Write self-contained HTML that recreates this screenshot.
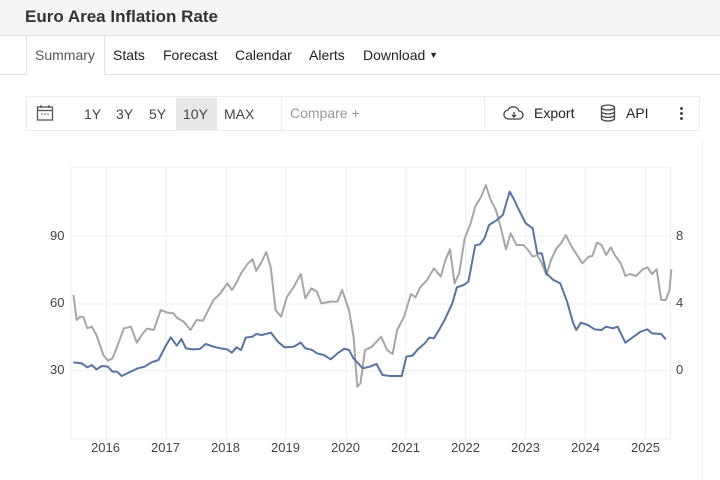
<!DOCTYPE html>
<html><head><meta charset="utf-8"><style>
body{margin:0;width:720px;height:480px;overflow:hidden;background:#fff;font-family:"Liberation Sans",sans-serif;position:relative}
.a{position:absolute;white-space:nowrap}
</style></head><body>
<div class="a" style="left:0;top:0;width:720px;height:35px;background:#f5f5f5;border-bottom:1px solid #e2e2e2"></div>
<div class="a" style="left:25px;top:7px;font-size:17px;font-weight:bold;color:#333">Euro Area Inflation Rate</div>
<div class="a" style="left:0;top:74px;width:720px;height:1px;background:#e2e2e2"></div>
<div class="a" style="left:26px;top:36px;width:77px;height:39px;background:#fff;border-left:1px solid #e2e2e2;border-right:1px solid #e2e2e2"></div>
<div class="a" style="left:35px;top:47px;font-size:14px;color:#555">Summary</div>
<div class="a" style="left:113px;top:47px;font-size:14px;color:#222">Stats</div>
<div class="a" style="left:163px;top:47px;font-size:14px;color:#222">Forecast</div>
<div class="a" style="left:235px;top:47px;font-size:14px;color:#222">Calendar</div>
<div class="a" style="left:309px;top:47px;font-size:14px;color:#222">Alerts</div>
<div class="a" style="left:363px;top:47px;font-size:14px;color:#222">Download <span style="font-size:9px;position:relative;top:-2px">&#9660;</span></div>
<div class="a" style="left:26px;top:96px;width:674px;height:35px;border:1px solid #ececec;box-sizing:border-box"></div>
<svg class="a" style="left:36px;top:104px" width="18" height="18" viewBox="0 0 18 18"><rect x="1.5" y="3" width="15" height="13" fill="none" stroke="#555" stroke-width="1.3"/><line x1="1.5" y1="6.5" x2="16.5" y2="6.5" stroke="#555" stroke-width="1.3"/><line x1="5" y1="1" x2="5" y2="4" stroke="#555" stroke-width="1.3"/><line x1="13" y1="1" x2="13" y2="4" stroke="#555" stroke-width="1.3"/><circle cx="6" cy="10" r=".8" fill="#555"/><circle cx="9" cy="10" r=".8" fill="#555"/><circle cx="12" cy="10" r=".8" fill="#555"/></svg>
<div class="a" style="left:176px;top:98px;width:41px;height:32px;background:#e8e8e8"></div>
<div class="a" style="left:84px;top:106px;font-size:14px;color:#444">1Y</div>
<div class="a" style="left:116px;top:106px;font-size:14px;color:#444">3Y</div>
<div class="a" style="left:149px;top:106px;font-size:14px;color:#444">5Y</div>
<div class="a" style="left:183px;top:106px;font-size:14px;color:#444">10Y</div>
<div class="a" style="left:224px;top:106px;font-size:14px;color:#444">MAX</div>
<div class="a" style="left:281px;top:97px;width:202px;height:33px;border-left:1px solid #ececec;border-right:1px solid #ececec"></div>
<div class="a" style="left:290px;top:105px;font-size:14px;color:#999">Compare +</div>
<svg class="a" style="left:503px;top:104px" width="22" height="18" viewBox="0 0 22 18"><path d="M6 15 H16 A4 4 0 0 0 16 7 A6 6 0 0 0 5 6 A4.5 4.5 0 0 0 6 15Z" fill="none" stroke="#444" stroke-width="1.3"/><path d="M11 8 V13 M9 11 L11 13 L13 11" fill="none" stroke="#444" stroke-width="1.3"/></svg>
<div class="a" style="left:534px;top:105px;font-size:14px;color:#222">Export</div>
<svg class="a" style="left:600px;top:104px" width="16" height="18" viewBox="0 0 16 18"><ellipse cx="8" cy="3.5" rx="6.5" ry="2.5" fill="none" stroke="#444" stroke-width="1.3"/><path d="M1.5 3.5 V14.5 A6.5 2.5 0 0 0 14.5 14.5 V3.5 M1.5 7.5 A6.5 2.5 0 0 0 14.5 7.5 M1.5 11 A6.5 2.5 0 0 0 14.5 11" fill="none" stroke="#444" stroke-width="1.3"/></svg>
<div class="a" style="left:626px;top:105px;font-size:14px;color:#222">API</div>
<div class="a" style="left:680px;top:107px;width:3px;height:3px;background:#444;border-radius:2px;box-shadow:0 5px 0 #444,0 10px 0 #444"></div>
<div class="a" style="left:702px;top:140px;width:1px;height:340px;background:#f0f0f0"></div>

<svg class="a" style="left:0;top:150px" width="720" height="330" viewBox="0 0 1568 990" preserveAspectRatio="none">
<g stroke="#f0f0f0" stroke-width="1.2" fill="none" vector-effect="non-scaling-stroke">
<rect x="155" y="52" width="1305" height="815" vector-effect="non-scaling-stroke"/>
<line x1="155" y1="258" x2="1460" y2="258" vector-effect="non-scaling-stroke"/><line x1="155" y1="462" x2="1460" y2="462" vector-effect="non-scaling-stroke"/><line x1="155" y1="662" x2="1460" y2="662" vector-effect="non-scaling-stroke"/>
<g vector-effect="non-scaling-stroke">
<line x1="232" y1="52" x2="232" y2="867" vector-effect="non-scaling-stroke"/><line x1="362" y1="52" x2="362" y2="867" vector-effect="non-scaling-stroke"/><line x1="493" y1="52" x2="493" y2="867" vector-effect="non-scaling-stroke"/><line x1="623" y1="52" x2="623" y2="867" vector-effect="non-scaling-stroke"/><line x1="754" y1="52" x2="754" y2="867" vector-effect="non-scaling-stroke"/><line x1="884" y1="52" x2="884" y2="867" vector-effect="non-scaling-stroke"/><line x1="1014" y1="52" x2="1014" y2="867" vector-effect="non-scaling-stroke"/><line x1="1145" y1="52" x2="1145" y2="867" vector-effect="non-scaling-stroke"/><line x1="1275" y1="52" x2="1275" y2="867" vector-effect="non-scaling-stroke"/><line x1="1406" y1="52" x2="1406" y2="867" vector-effect="non-scaling-stroke"/>
</g></g>
<polyline fill="none" stroke="#a6a6a6" stroke-width="2" vector-effect="non-scaling-stroke" stroke-linejoin="round" points="160,435 167,510 175,500 182,502 190,535 200,530 210,555 225,615 235,632 245,625 255,590 270,535 285,530 298,578 310,552 320,536 335,540 350,480 365,488 378,490 385,503 400,515 415,540 428,510 442,512 450,490 465,450 480,430 495,400 505,420 515,398 525,370 540,340 550,328 558,362 568,340 580,306 590,355 600,480 612,500 625,440 640,410 655,372 665,445 678,415 690,425 700,460 720,455 735,455 745,420 760,480 770,560 778,710 785,700 795,600 810,590 830,560 843,600 855,612 865,540 880,500 895,432 905,442 915,412 930,390 945,355 960,380 970,330 980,298 990,400 1000,370 1012,265 1025,220 1035,170 1048,140 1058,105 1068,148 1080,180 1090,230 1102,298 1112,250 1125,285 1140,285 1150,300 1160,320 1170,315 1180,340 1190,375 1200,330 1212,295 1222,280 1232,255 1245,290 1258,318 1268,340 1282,320 1290,318 1300,278 1310,285 1320,315 1330,292 1340,318 1352,340 1362,378 1372,372 1385,378 1400,358 1410,352 1420,372 1430,358 1440,450 1450,450 1458,420 1462,358"/>
<polyline fill="none" stroke="#5874a0" stroke-width="2" vector-effect="non-scaling-stroke" stroke-linejoin="round" points="160,637 178,640 190,652 200,645 210,658 222,648 235,650 245,665 255,665 265,678 280,668 300,655 315,650 330,637 345,630 360,590 372,562 385,587 395,567 405,595 420,598 435,597 448,582 465,590 480,595 495,598 505,608 515,592 525,600 535,563 550,560 558,552 570,555 590,548 605,575 620,592 640,590 655,578 665,595 680,600 690,610 705,615 720,628 735,610 750,596 760,600 770,625 790,655 805,650 820,642 833,675 850,678 875,678 885,620 898,617 910,598 925,580 935,563 945,565 958,535 970,505 985,460 995,412 1010,405 1020,395 1035,286 1045,283 1055,265 1065,225 1080,212 1095,195 1110,125 1120,150 1130,180 1145,220 1160,235 1170,310 1180,310 1190,370 1205,390 1220,400 1235,455 1248,518 1255,540 1265,518 1280,525 1295,538 1310,540 1320,530 1335,535 1345,530 1362,578 1375,565 1395,545 1410,538 1420,550 1440,552 1450,568"/>
</svg>
<div class="a" style="left:50px;top:228px;font-size:13px;color:#444">90</div>
<div class="a" style="left:50px;top:295px;font-size:13px;color:#444">60</div>
<div class="a" style="left:50px;top:362px;font-size:13px;color:#444">30</div>
<div class="a" style="left:676px;top:228px;font-size:13px;color:#444">8</div>
<div class="a" style="left:676px;top:295px;font-size:13px;color:#444">4</div>
<div class="a" style="left:676px;top:362px;font-size:13px;color:#444">0</div>
<div class="a" style="left:91px;top:440px;font-size:13px;color:#444">2016</div>
<div class="a" style="left:151px;top:440px;font-size:13px;color:#444">2017</div>
<div class="a" style="left:211px;top:440px;font-size:13px;color:#444">2018</div>
<div class="a" style="left:271px;top:440px;font-size:13px;color:#444">2019</div>
<div class="a" style="left:331px;top:440px;font-size:13px;color:#444">2020</div>
<div class="a" style="left:391px;top:440px;font-size:13px;color:#444">2021</div>
<div class="a" style="left:451px;top:440px;font-size:13px;color:#444">2022</div>
<div class="a" style="left:511px;top:440px;font-size:13px;color:#444">2023</div>
<div class="a" style="left:571px;top:440px;font-size:13px;color:#444">2024</div>
<div class="a" style="left:631px;top:440px;font-size:13px;color:#444">2025</div>
</body></html>
